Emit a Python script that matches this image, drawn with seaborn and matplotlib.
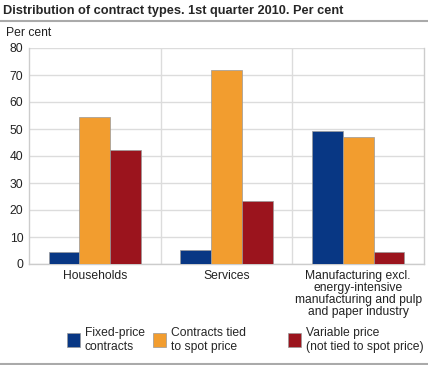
import pandas as pd
import matplotlib.pyplot as plt
import seaborn as sns
from matplotlib.lines import Line2D
from matplotlib.patches import Patch

# data
sectors = ["Households", "Services",
           "Manufacturing excl.\nenergy-intensive\nmanufacturing and pulp\nand paper industry"]
contract_types = ["Fixed-price\ncontracts", "Contracts tied\nto spot price",
                  "Variable price\n(not tied to spot price)"]
fixed_price = [4.4, 5.1, 49.1]
spot_price = [54.3, 71.9, 47.1]
variable_price = [42.2, 23.5, 4.6]
colors = ["#083784", "#F29D2F", "#9B141D"]

df = pd.DataFrame({
    "sector": sectors * 3,
    "type": [contract_types[0]] * 3 + [contract_types[1]] * 3 + [contract_types[2]] * 3,
    "value": fixed_price + spot_price + variable_price,
})

sns.set_theme(style="white")
plt.rcParams["font.family"] = ["Liberation Sans", "DejaVu Sans"]

fig = plt.figure(figsize=(4.28, 3.65), dpi=100)
ax = fig.add_axes([29 / 428, 1 - 264 / 365, 395 / 428, 216 / 365])

sns.barplot(data=df, x="sector", y="value", hue="type", palette=colors, saturation=1,
            width=0.7, edgecolor="#999999", linewidth=0.5, ax=ax, zorder=3, legend=False)

ax.set_ylim(0, 80)
ax.set_yticks(range(0, 81, 10))
ax.set_xlim(-0.5, 2.5)
ax.set_xlabel("")
ax.set_ylabel("")
ax.grid(axis="y", color="#dcdcdc", linewidth=1, zorder=0)
for xv in [0.5, 1.5]:
    ax.axvline(xv, color="#dcdcdc", linewidth=1, zorder=0)
for side in ["left", "bottom", "right", "top"]:
    ax.spines[side].set_color("#cccccc")
    ax.spines[side].set_linewidth(1)
ax.spines["top"].set_visible(False)
ax.tick_params(axis="both", length=0, labelsize=8.7, colors="#222222")
ax.tick_params(axis="x", pad=4)
ax.tick_params(axis="y", pad=4)
for lbl in ax.get_xticklabels():
    lbl.set_linespacing(1.0)

# legend entries placed individually, as in the reference
legend_x = [67, 153, 288]
for x, lab, col in zip(legend_x, contract_types, colors):
    fig.legend([Patch(facecolor=col, edgecolor="#999999", linewidth=0.5)], [lab],
               loc="upper left", bbox_to_anchor=(x / 428, 1 - 327 / 365),
               frameon=False, fontsize=8.7, handlelength=1.1, handleheight=1.4,
               handletextpad=0.35, borderpad=0, borderaxespad=0)

fig.text(0.008, 1 - 11 / 365, "Distribution of contract types. 1st quarter 2010. Per cent",
         fontsize=9.2, fontweight="bold", va="center", ha="left")
fig.text(0.014, 1 - 33 / 365, "Per cent", fontsize=8.7, va="center", ha="left", color="#222222")
fig.add_artist(Line2D([0, 1], [1 - 21 / 365] * 2, color="#aaaaaa", linewidth=1.5))
fig.add_artist(Line2D([0, 1], [1 - 363.5 / 365] * 2, color="#aaaaaa", linewidth=1.5))

fig.savefig("out.png", dpi=100)
